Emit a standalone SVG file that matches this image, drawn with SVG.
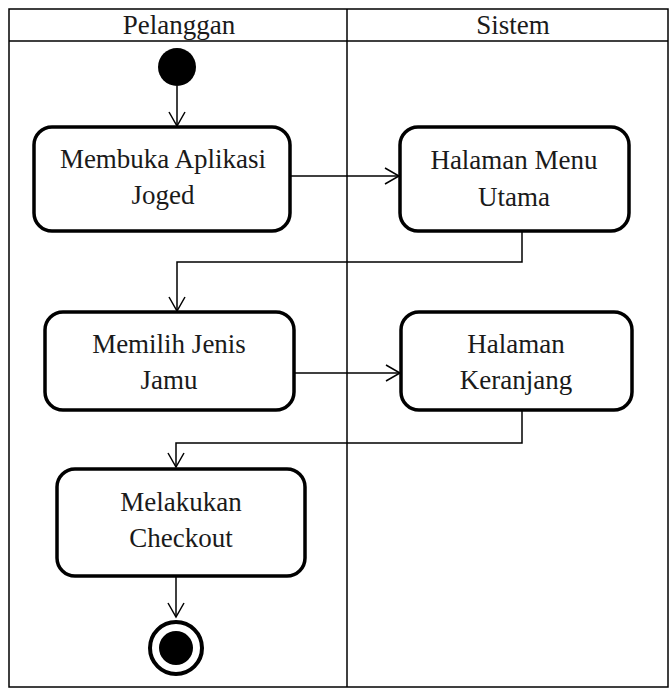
<svg xmlns="http://www.w3.org/2000/svg" width="671" height="688" viewBox="0 0 671 688">
<style>
.frame{fill:none;stroke:#000;stroke-width:1.5}
.box{fill:#fff;stroke:#000;stroke-width:3.5}
.lbl{font-family:"Liberation Serif","Times New Roman",serif;font-size:27px;fill:#1a1a1a;text-anchor:middle}
.conn{fill:none;stroke:#000;stroke-width:1.5}
</style>
<defs>
<marker id="arr" markerUnits="userSpaceOnUse" markerWidth="18" markerHeight="18" refX="15" refY="9" orient="auto">
<path d="M1,1 L15,9 L1,17" fill="none" stroke="#000" stroke-width="1.5"/>
</marker>
</defs>
<rect width="671" height="688" fill="#fff"/>
<g id="lanes">
<rect class="frame" x="9" y="9" width="659" height="678"/>
<line class="frame" x1="9" y1="41" x2="668" y2="41"/>
<line class="frame" x1="347" y1="9" x2="347" y2="687"/>
<text class="lbl" x="179" y="34">Pelanggan</text>
<text class="lbl" x="513" y="34">Sistem</text>
</g>
<g id="connectors">
<path class="conn" d="M177,86 L177,126" marker-end="url(#arr)"/>
<path class="conn" d="M291,176 L399,176" marker-end="url(#arr)"/>
<path class="conn" d="M522,232 L522,262 L177,262 L177,311" marker-end="url(#arr)"/>
<path class="conn" d="M294,373 L400,373" marker-end="url(#arr)"/>
<path class="conn" d="M522,411 L522,443 L176,443 L176,467" marker-end="url(#arr)"/>
<path class="conn" d="M176,577 L176,617" marker-end="url(#arr)"/>
</g>
<g id="start">
<ellipse cx="177" cy="67" rx="19" ry="19" fill="#000"/>
</g>
<g id="membuka">
<rect class="box" x="34" y="127" width="256" height="104" rx="18"/>
<text class="lbl" x="163" y="168">Membuka Aplikasi</text>
<text class="lbl" x="163" y="204">Joged</text>
</g>
<g id="menu">
<rect class="box" x="400" y="127" width="229" height="104" rx="18"/>
<text class="lbl" x="514" y="169">Halaman Menu</text>
<text class="lbl" x="514" y="206">Utama</text>
</g>
<g id="memilih">
<rect class="box" x="45" y="312" width="249" height="98" rx="18"/>
<text class="lbl" x="169" y="353">Memilih Jenis</text>
<text class="lbl" x="169" y="389">Jamu</text>
</g>
<g id="keranjang">
<rect class="box" x="401" y="312" width="231" height="98" rx="18"/>
<text class="lbl" x="516" y="353">Halaman</text>
<text class="lbl" x="516" y="389">Keranjang</text>
</g>
<g id="checkout">
<rect class="box" x="57" y="469" width="248" height="107" rx="18"/>
<text class="lbl" x="181" y="511">Melakukan</text>
<text class="lbl" x="181" y="547">Checkout</text>
</g>
<g id="end">
<circle cx="176" cy="648" r="26" fill="#fff" stroke="#000" stroke-width="4"/>
<circle cx="176" cy="648" r="17" fill="#000"/>
</g>
</svg>
